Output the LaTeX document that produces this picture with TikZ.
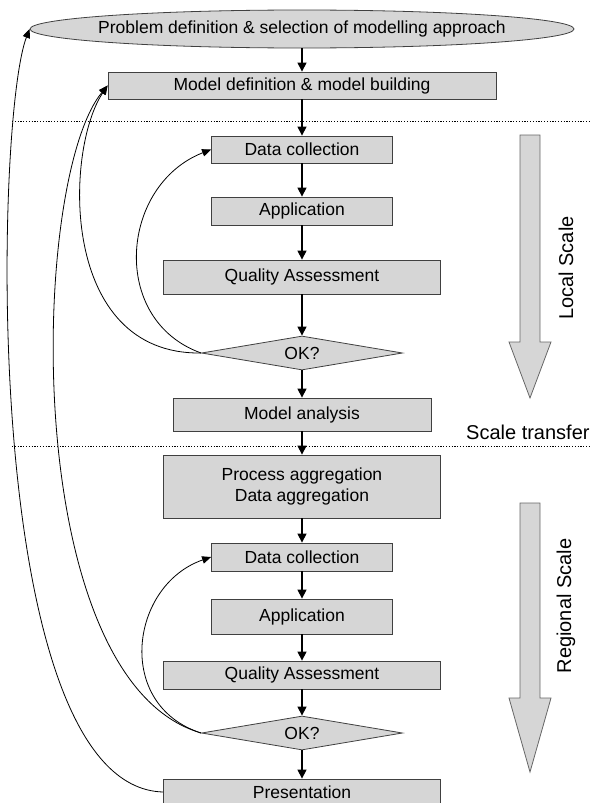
\documentclass[tikz,border=0pt]{standalone}
\usepackage{fontspec}
\setmainfont{Liberation Sans}
\usetikzlibrary{arrows.meta, shapes.geometric}

\begin{document}
\begin{tikzpicture}[x=1pt, y=-1pt,
        box/.style n args={2}{draw=black!75, line width=0.8pt, fill=black!16,
            minimum width=#1, minimum height=#2, inner sep=0pt, align=center,
            font=\fontsize{17.5}{21}\selectfont},
        okbox/.style={diamond, aspect=5.9, draw=black!75, line width=0.8pt, fill=black!16,
            minimum width=201, minimum height=34, inner sep=0pt,
            font=\fontsize{17.5}{21}\selectfont},
        flow/.style={line width=1.2pt, -{Triangle[length=9pt, width=9pt]}},
        back/.style={line width=0.8pt, -{Triangle[length=9pt, width=7.5pt]}},
        sep/.style={line width=1pt, dash pattern=on 1.2pt off 1.6pt},
        scalearrow/.style={draw=black!60, line width=0.8pt, fill=black!16},
        side/.style={font=\fontsize{20}{24}\selectfont}]
                \clip (0,0) rectangle (591,803);
                \node[ellipse, draw=black!75, line width=0.8pt, fill=black!16, minimum width=544,
                    minimum height=38, inner sep=0pt, font=\fontsize{17.5}{21}\selectfont]
                    (PD) at (302,29) {\makebox[0pt]{Problem definition \& selection of modelling approach}};
                \node[box={388}{27}] (MD) at (302,85.5) {Model definition \& model building};
                \node[box={181}{27}] (DC1) at (302,149.5) {Data collection};
                \node[box={181}{28}] (AP1) at (302,211) {Application};
                \node[box={277}{34}] (QA1) at (302,277) {Quality Assessment};
                \node[okbox] (OK1) at (302,353) {OK?};
                \node[box={258}{33}] (MA) at (302,414.5) {Model analysis};
                \node[box={277}{63}] (PA) at (302,486.5) {Process aggregation\\Data aggregation};
                \node[box={181}{28}] (DC2) at (302,557) {Data collection};
                \node[box={181}{35}] (AP2) at (302,616.5) {Application};
                \node[box={277}{28}] (QA2) at (302,675) {Quality Assessment};
                \node[okbox] (OK2) at (302,733) {OK?};
                \node[box={277}{26}] (PR) at (302,792) {Presentation};
                \draw[sep] (12,121) -- (591,121);
                \draw[sep] (12,446) -- (591,446);
                \draw[flow] (PD) -- (MD);
                \draw[flow] (MD) -- (DC1);
                \draw[flow] (DC1) -- (AP1);
                \draw[flow] (AP1) -- (QA1);
                \draw[flow] (QA1) -- (OK1);
                \draw[flow] (OK1) -- (MA);
                \draw[flow] (MA) -- (PA);
                \draw[flow] (PA) -- (DC2);
                \draw[flow] (DC2) -- (AP2);
                \draw[flow] (AP2) -- (QA2);
                \draw[flow] (QA2) -- (OK2);
                \draw[flow] (OK2) -- (PR);
                \draw[back] (OK1.west) .. controls +(-92,-33) and +(-91,35.5) .. (DC1.west);
                \draw[back] (OK2.west) .. controls +(-87,-28) and +(-81,28) .. (DC2.west);
                \draw[back] (OK1.west) .. controls +(-142,2) and +(-43,64.5) .. (MD.west);
                \draw[back] (OK2.west) .. controls +(-182,-53) and +(-78,94.5) .. (MD.west);
                \draw[back] (PR.west) .. controls +(-183,-5) and +(-35,91) .. (PD.west);
                \draw[scalearrow] (520,135) -- (540,135) -- (540,342) -- (551,342)
                    -- (530,398) -- (509,342) -- (520,342) -- cycle;
                \draw[scalearrow] (520,503) -- (540,503) -- (540,698) -- (551,698)
                    -- (530,772) -- (509,698) -- (520,698) -- cycle;
                \node[side, rotate=90] (LS) at (566,268) {Local Scale};
                \node[side, rotate=90] (RS) at (566,606) {Regional Scale};
                \node[side, anchor=west, inner sep=0pt] (ST) at (466,432) {Scale transfer};
            \end{tikzpicture}
\end{document}
